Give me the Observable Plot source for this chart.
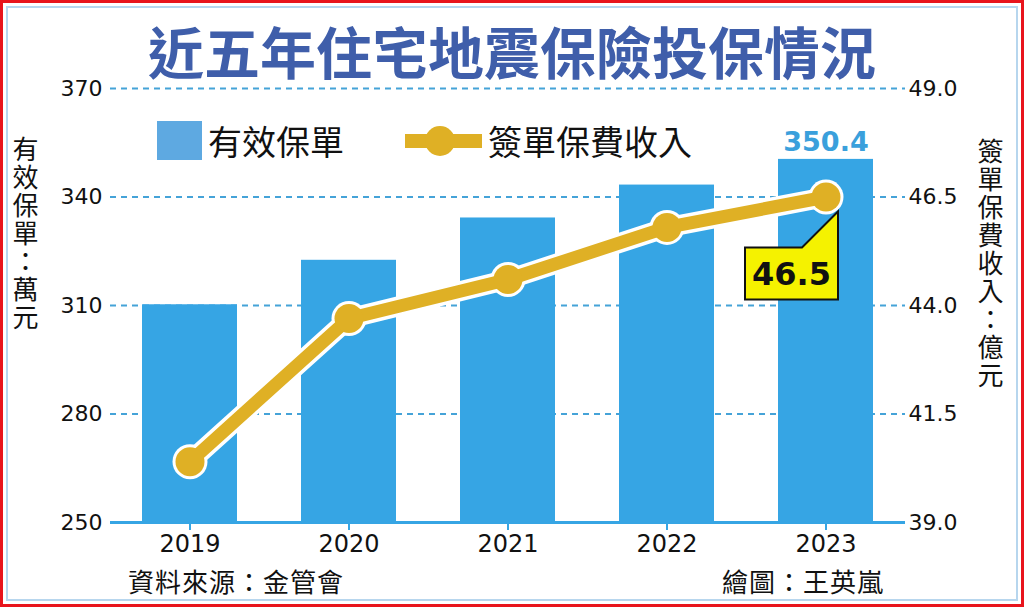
<!DOCTYPE html>
<html>
<head>
<meta charset="utf-8">
<script src="https://cdn.jsdelivr.net/npm/d3@7"></script>
<script src="https://cdn.jsdelivr.net/npm/@observablehq/plot@0.6"></script>
<style>
  html, body { margin: 0; padding: 0; background: #fff; }
  #page { position: relative; width: 1024px; height: 607px; overflow: hidden; background: #fff;
          font-family: "Noto Sans CJK TC", "Noto Sans", sans-serif; }
  #frame-red { position: absolute; left: 0; top: 0; width: 1024px; height: 607px; box-sizing: border-box;
               border: 3px solid #e8141c; pointer-events: none; }
  #frame-blue { position: absolute; left: 6px; top: 6px; width: 1012px; height: 595px; box-sizing: border-box;
                border: 2px solid #b7d6ee; pointer-events: none; }
  #title { position: absolute; left: 0; top: 21px; width: 1024px; text-align: center; line-height: 58px;
           font-size: 56px; font-weight: 700; color: #3f5eaa; letter-spacing: 0px; }
  #chart { position: absolute; left: 0; top: 80px; }
  .ylab { position: absolute; writing-mode: vertical-rl; font-size: 26px; color: #111; line-height: 26px; letter-spacing: 2px; }
  #legend { position: absolute; left: 0; top: 0; width: 1024px; height: 200px; pointer-events: none; }
  .leg-text { position: absolute; font-size: 34px; line-height: 40px; color: #111; }
  .foot { position: absolute; font-size: 26px; line-height: 30px; color: #111; letter-spacing: 1px; }
</style>
</head>
<body>
<div id="page">
  <div id="title">近五年住宅地震保險投保情況</div>
  <div id="chart"></div>
  <div class="ylab" style="left:12px; top:136px;">有效保單：萬元</div>
  <div class="ylab" style="left:977px; top:138px;">簽單保費收入：億元</div>
  <div id="legend">
    <div style="position:absolute; left:157px; top:121px; width:45px; height:39px; background:#5ea9e1;"></div>
    <div class="leg-text" style="left:208px; top:121px;">有效保單</div>
    <svg style="position:absolute; left:400px; top:118px;" width="90" height="46">
      <line x1="5" y1="23" x2="82" y2="23" stroke="#dfb025" stroke-width="14"/>
      <circle cx="40" cy="23" r="15" fill="#dfb025"/>
    </svg>
    <div class="leg-text" style="left:488px; top:121px;">簽單保費收入</div>
  </div>
  <div class="foot" style="left:128px; top:566px;">資料來源：金管會</div>
  <div class="foot" style="left:722px; top:566px;">繪圖：王英嵐</div>
  <div id="frame-blue"></div>
  <div id="frame-red"></div>
</div>
<script>
// ---- data ----
const years = ["2019", "2020", "2021", "2022", "2023"];
const policies = [310.2, 322.5, 334.2, 343.3, 350.4];   // 有效保單（萬）
const premiums = [40.4, 43.7, 44.6, 45.8, 46.5];        // 簽單保費收入（億元）
const leftTicks = [250, 280, 310, 340, 370];
const rightTicks = [39.0, 41.5, 44.0, 46.5, 49.0];

// map right-axis values onto the left scale
const leftMin = leftTicks[0], leftMax = leftTicks[leftTicks.length - 1];
const rightMin = rightTicks[0], rightMax = rightTicks[rightTicks.length - 1];
const toLeft = v => leftMin + (v - rightMin) * (leftMax - leftMin) / (rightMax - rightMin);
const rightLabel = new Map(rightTicks.map(v => [toLeft(v), v.toFixed(1)]));

const rows = years.map((y, i) => ({
  year: y,
  policies: policies[i],
  premium: premiums[i],
  premiumY: toLeft(premiums[i])
}));
const last = [rows[rows.length - 1]];

const blue = "#36a5e4";
const gold = "#dfb025";

const chart = Plot.plot({
  width: 1024,
  height: 487,
  marginTop: 8,
  marginBottom: 45,
  marginLeft: 110,
  marginRight: 119,
  style: { fontFamily: "DejaVu Sans", color: "#111", background: "transparent", overflow: "visible" },
  x: { domain: years, paddingInner: 0.4, paddingOuter: 0.2, label: null },
  y: { domain: [leftMin, leftMax], label: null },
  marks: [
    Plot.gridY(leftTicks.filter(d => d > leftMin), { stroke: "#45a3d8", strokeOpacity: 1, strokeWidth: 2, strokeDasharray: "6 5" }),
    Plot.barY(rows, { x: "year", y1: leftMin, y2: "policies", fill: blue }),
    Plot.ruleY([leftMin], { stroke: blue, strokeWidth: 3 }),
    Plot.axisX({ tickSize: 8, tickPadding: 4, stroke: blue, strokeWidth: 2, fill: "#111", fontSize: 24, label: null }),
    Plot.axisY(leftTicks, { anchor: "left", tickSize: 0, tickPadding: 8, fontSize: 22, label: null }),
    Plot.axisY(rightTicks.map(toLeft), { anchor: "right", tickSize: 0, tickPadding: 3, fontSize: 22, label: null,
      tickFormat: d => rightLabel.get(d) }),
    // line with white halo
    Plot.lineY(rows, { x: "year", y: "premiumY", stroke: "white", strokeWidth: 20 }),
    Plot.dot(rows, { x: "year", y: "premiumY", r: 17.5, fill: "white" }),
    Plot.lineY(rows, { x: "year", y: "premiumY", stroke: gold, strokeWidth: 13 }),
    Plot.dot(rows, { x: "year", y: "premiumY", r: 14.5, fill: gold }),
    // value labels
    Plot.text(last, { x: "year", y: "policies", text: d => d.policies.toFixed(1), dy: -17,
      fill: "#3aa0dc", fontSize: 27, fontWeight: "bold", fontFamily: "DejaVu Sans" }),
    Plot.tip(last, { x: "year", y: "premiumY", title: d => d.premium.toFixed(1), anchor: "top-right",
      dx: 12, dy: 14, pointerSize: 36, textPadding: 7, fill: "#f5f200", stroke: "#111", strokeWidth: 2,
      fontSize: 32, fontWeight: "bold", fontFamily: "DejaVu Sans", pathFilter: "none" })
  ]
});
document.getElementById("chart").appendChild(chart);
</script>
</body>
</html>
